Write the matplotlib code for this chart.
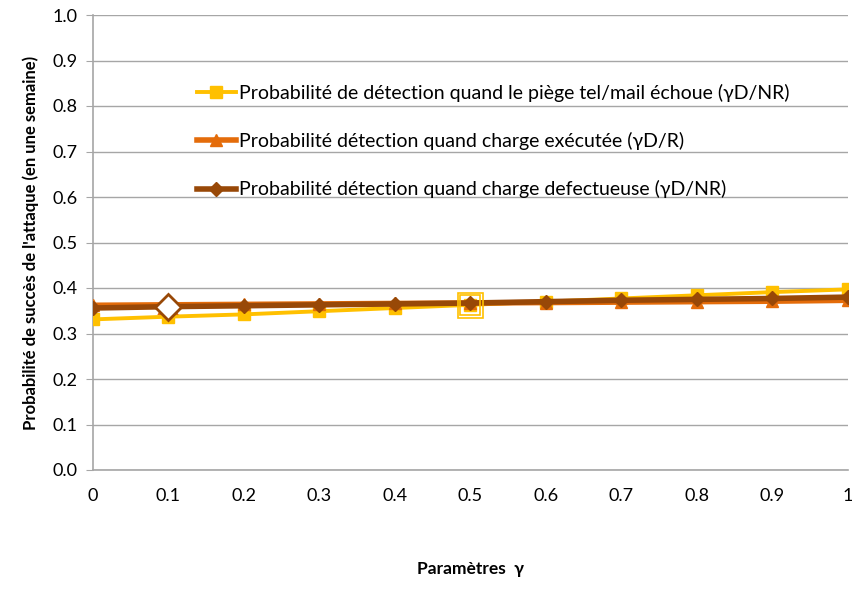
import matplotlib
matplotlib.use("Agg")
import matplotlib.pyplot as plt

gamma = [0.0, 0.1, 0.2, 0.3, 0.4, 0.5, 0.6, 0.7, 0.8, 0.9, 1.0]
x_labels = ["0", "0.1", "0.2", "0.3", "0.4", "0.5", "0.6", "0.7", "0.8", "0.9", "1"]
p_piege = [0.331, 0.337, 0.342, 0.349, 0.356, 0.363, 0.370, 0.377, 0.384, 0.391, 0.397]
p_execute = [0.362, 0.363, 0.364, 0.365, 0.366, 0.367, 0.368, 0.369, 0.370, 0.371, 0.373]
p_defect = [0.356, 0.359, 0.361, 0.363, 0.365, 0.367, 0.370, 0.373, 0.375, 0.377, 0.380]
labels = ["Probabilité de détection quand le piège tel/mail échoue (γD/NR)",
          "Probabilité détection quand charge exécutée (γD/R)",
          "Probabilité détection quand charge defectueuse (γD/NR)"]
y_ticks = [0.0, 0.1, 0.2, 0.3, 0.4, 0.5, 0.6, 0.7, 0.8, 0.9, 1.0]

plt.rcParams['font.family'] = ['Lato', 'DejaVu Sans']

fig = plt.figure(figsize=(8.53, 6.09), dpi=100)
ax = fig.add_axes([93/853, 1-470/609, (848-93)/853, (470-15)/609])

c_yel = '#FFC000'
c_ora = '#E46C0A'
c_bro = '#984807'

ax.plot(gamma, p_piege, color=c_yel, lw=2.8, marker='s', ms=8, mec=c_yel, mfc=c_yel, label=labels[0], zorder=3)
ax.plot(gamma, p_execute, color=c_ora, lw=4, marker='^', ms=9, mec=c_ora, mfc=c_ora, label=labels[1], zorder=4)
ax.plot(gamma, p_defect, color=c_bro, lw=4, marker='D', ms=7, mec=c_bro, mfc=c_bro, label=labels[2], zorder=5)

# highlighted points
i = 1
ax.plot([gamma[i]], [p_execute[i]], marker='^', ms=13, mec=c_ora, mfc='white', mew=1.5, ls='none', zorder=6)
ax.plot([gamma[i]], [p_defect[i]], marker='D', ms=13, mec=c_bro, mfc='white', mew=2, ls='none', zorder=7)
j = 5
ax.plot([gamma[j]], [p_piege[j]], marker='s', ms=18, mec=c_yel, mfc='none', mew=1.2, ls='none', zorder=6)
ax.plot([gamma[j]], [p_piege[j]], marker='s', ms=14, mec=c_yel, mfc='none', mew=1.2, ls='none', zorder=6)

ax.set_xlim(0, 1)
ax.set_ylim(0, 1)
ax.set_yticks(y_ticks)
ax.set_yticklabels([f"{v:.1f}" for v in y_ticks])
ax.set_xticks(gamma)
ax.set_xticklabels(x_labels)

ax.grid(axis='y', color='#A6A6A6', lw=1)
ax.set_axisbelow(True)
for s in ['top', 'right']:
    ax.spines[s].set_visible(False)
for s in ['left', 'bottom']:
    ax.spines[s].set_color('#A6A6A6')
    ax.spines[s].set_linewidth(1.2)
ax.tick_params(axis='y', length=5, color='#A6A6A6', labelsize=13, pad=6)
ax.tick_params(axis='x', length=0, labelsize=13, pad=13)

ax.set_ylabel("Probabilité de succès de l'attaque (en une semaine)", fontsize=12, fontweight='bold', labelpad=10)
ax.set_xlabel("Paramètres  γ", fontsize=12.5, fontweight='bold', labelpad=41)

leg = ax.legend(loc='upper left', bbox_to_anchor=((197-93)/755, 1-(84-15)/455), frameon=False,
                fontsize=14, labelspacing=1.55, handlelength=2.0, handletextpad=0.15,
                borderaxespad=0, borderpad=0)

fig.savefig("out.png", dpi=100)
